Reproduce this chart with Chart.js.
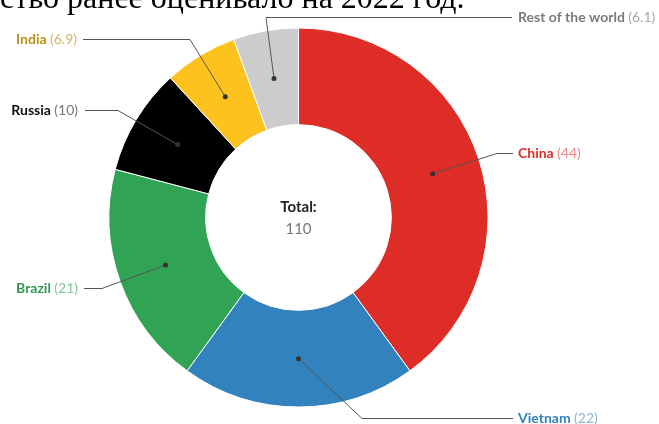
<!DOCTYPE html>
<html>
<head>
<meta charset="utf-8">
<script src="https://cdn.jsdelivr.net/npm/chart.js@4/dist/chart.umd.min.js"></script>
<style>
  html, body { margin: 0; padding: 0; background: #fff; width: 659px; height: 424px; overflow: hidden; }
  #wrap { position: relative; width: 659px; height: 424px; }
  #c { position: absolute; left: 0; top: 0; }
  #caption { position: absolute; left: 0; top: -23px; font-family: "Liberation Serif", "Times New Roman", serif; font-size: 32px; line-height: 40px; color: #000; white-space: nowrap; }
</style>
</head>
<body>
<div id="wrap">
  <canvas id="c" width="659" height="424"></canvas>
  <div id="caption">ство ранее оценивало на 2022 год.</div>
</div>
<script>
// ---- data ----
const categories = ["China", "Vietnam", "Brazil", "Russia", "India", "Rest of the world"];
const values = [44, 22, 21, 10, 6.9, 6.1];
const valueLabels = ["44", "22", "21", "10", "6.9", "6.1"];
const totalLabel = "Total:";
const totalValue = "110";

// ---- styles ----
const sliceColors = ["#de2d26", "#3182bd", "#31a354", "#000000", "#fdc21e", "#cccccc"];
const nameColors = ["#de2d26", "#3182bd", "#2f9a4e", "#111111", "#b8901a", "#7a7a7a"];
const valueColors = ["#ec8a86", "#8ab6da", "#82c795", "#777777", "#d2b265", "#a8a8a8"];

// label layout: knee point, end of horizontal line, text anchor, alignment
const labelLayout = [
  { knee: [497, 153], end: [513, 153], text: [518, 153], align: "left" },
  { knee: [362, 418], end: [513, 418], text: [518, 418], align: "left" },
  { knee: [102, 288], end: [84, 288],  text: [78, 288],  align: "right" },
  { knee: [118, 110], end: [85, 110],  text: [78, 110],  align: "right" },
  { knee: [190, 39],  end: [83, 39],   text: [77, 39],   align: "right" },
  { knee: [266, 17],  end: [512, 17],  text: [518, 17],  align: "left" }
];

const FONT = "Lato, 'Open Sans', sans-serif";
const FS = 14;

const labelPlugin = {
  id: "leaderLabels",
  afterDraw(chart) {
    const ctx = chart.ctx;
    const meta = chart.getDatasetMeta(0);
    ctx.save();
    meta.data.forEach((arc, i) => {
      const p = arc.getCenterPoint();
      const L = labelLayout[i];
      ctx.strokeStyle = "#555";
      ctx.lineWidth = 1;
      ctx.beginPath();
      ctx.moveTo(p.x, p.y);
      ctx.lineTo(L.knee[0], L.knee[1] + 0.5);
      ctx.lineTo(L.end[0], L.end[1] + 0.5);
      ctx.stroke();
      ctx.fillStyle = "#333";
      ctx.beginPath();
      ctx.arc(p.x, p.y, 2.5, 0, Math.PI * 2);
      ctx.fill();

      const name = categories[i];
      const val = "(" + valueLabels[i] + ")";
      ctx.textBaseline = "middle";
      ctx.font = "bold " + FS + "px " + FONT;
      const wName = ctx.measureText(name + " ").width;
      ctx.font = FS + "px " + FONT;
      const wVal = ctx.measureText(val).width;
      let x = L.text[0];
      if (L.align === "right") x = x - wName - wVal;
      ctx.textAlign = "left";
      ctx.font = "bold " + FS + "px " + FONT;
      ctx.fillStyle = nameColors[i];
      ctx.fillText(name, x, L.text[1]);
      ctx.font = FS + "px " + FONT;
      ctx.fillStyle = valueColors[i];
      ctx.fillText(val, x + wName, L.text[1]);
    });
    // center text
    const cx = meta.data[0].x, cy = meta.data[0].y;
    ctx.textAlign = "center";
    ctx.textBaseline = "middle";
    ctx.font = "bold 15px " + FONT;
    ctx.fillStyle = "#222";
    ctx.fillText(totalLabel, cx, cy - 10);
    ctx.font = "15px " + FONT;
    ctx.fillStyle = "#777";
    ctx.fillText(totalValue, cx, cy + 11.5);
    ctx.restore();
  }
};

new Chart(document.getElementById("c"), {
  type: "doughnut",
  data: {
    labels: categories,
    datasets: [{
      data: values,
      backgroundColor: sliceColors,
      borderColor: "#ffffff",
      borderWidth: 1
    }]
  },
  options: {
    responsive: false,
    animation: false,
    devicePixelRatio: 1,
    cutout: "49%",
    layout: { padding: { left: 108.5, right: 170.5, top: 27.5, bottom: 16.5 } },
    plugins: { legend: { display: false }, tooltip: { enabled: false } }
  },
  plugins: [labelPlugin]
});
</script>
</body>
</html>
